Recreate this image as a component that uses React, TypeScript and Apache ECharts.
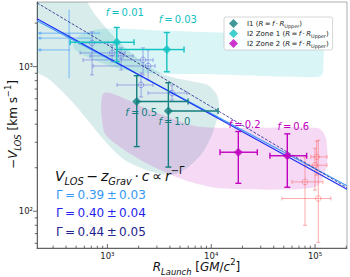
import React, { useEffect, useRef } from 'react';
import * as echarts from 'echarts';

const FONT = 'DejaVu Sans';

// ---------- axes ----------
const X_RANGE = [210, 203000];
const Y_RANGE = [55.7, 2800];

// ---------- data: [R, V, Rlo, Rhi, Vlo, Vhi] ----------
const I1_NAME = 'I1';
const I1_F = ['0.5', '1.0'];
const I1_POINTS = [
  [1918, 574, 1918, 5985, 280, 866],
  [3866, 494, 3866, 11630, 202, 774],
];
const Z1_NAME = 'I2 Zone 1';
const Z1_F = ['0.01', '0.03'];
const Z1_POINTS = [
  [1232, 1475, 438, 1807, 1083, 1866],
  [3736, 1313, 1240, 5470, 922, 1722],
];
const Z2_NAME = 'I2 Zone 2';
const Z2_F = ['0.2', '0.6'];
const Z2_POINTS = [
  [18240, 256, 12150, 27780, 156, 356],
  [54020, 242, 36760, 82990, 146.6, 343],
];
const LIGHT_POINTS = [
  [225, 1704, 212, 851, 1704, 1704],
  [225, 1574, 212, 700, 1574, 1574],
  [225, 1306, 212, 438, 1306, 1306],
  [428, 1633, 428, 428, 836, 2472],
];
const PURPLE_POINTS = [
  [712, 1459, 534, 1016, 876, 1740],
  [1110, 1244, 546, 1480, 1079, 1414],
  [1355, 1186, 681, 1768, 948, 1348],
  [2206, 1113, 583, 2753, 876, 1348],
  [2465, 1011, 729, 2878, 809, 1306],
  [2110, 747, 1240, 2753, 617, 904],
  [4195, 657, 2465, 5850, 588, 747],
];
const RED_POINTS = [
  [103600, 237.8, 91100, 130200, 178, 305.5],
  [99800, 208, 79800, 130200, 140, 273],
  [79970, 159.6, 59950, 119000, 80, 237],
  [107400, 122.5, 48030, 142200, 61, 310],
];

// power-law fits: gamma, error, endpoints
const FIT_GAMMA = [0.39, 0.4, 0.44];
const FIT_ERR = [0.03, 0.04, 0.05];
const FIT_LINES = [
  [[210, 2074], [203000, 150]],
  [[210, 2141], [203000, 142]],
  [[210, 2763], [203000, 145.5]],
];

// shaded regions (R, V)
const BAND_Z1 = [
  [468, 1414], [546, 1659], [851, 1825], [2577, 1795], [7800, 1739], [29460, 1712],
  [106700, 1712], [119000, 1607], [119000, 904], [106700, 849], [29460, 862],
  [7800, 889], [2064, 904], [1062, 1011], [610, 1186], [489, 1306],
];
const BAND_I1 = [
  [180, 3140], [546, 3140], [762, 2281], [1186, 1580], [2064, 1112], [3593, 875],
  [6980, 783], [9310, 747], [11370, 637], [11890, 501], [10400, 353], [8340, 256],
  [5850, 199], [4195, 178], [2577, 189], [1480, 225], [930, 310], [489, 543],
  [281, 809], [180, 1011],
];
const BAND_Z2 = [
  [930, 658], [2577, 501], [6980, 388], [18920, 376], [106700, 376], [127300, 321],
  [130000, 208], [106700, 151], [71460, 142], [12150, 144], [5595, 164],
  [2577, 208], [1325, 278], [930, 353],
];

// ---------- styles ----------
const C_I1 = '#137e7e';
const C_Z1 = '#12c2c2';
const C_Z2 = '#bf00bf';
const C_LIGHT = 'rgba(60,150,250,0.45)';
const C_PURPLE = 'rgba(80,80,220,0.5)';
const C_RED = 'rgba(255,100,100,0.6)';
const FIT_COLORS = ['#3d9cf7', '#1a2cf5', '#23238a'];
const FIT_TEXT_COLORS = ['#3399f5', '#1f1fee', '#23238e'];
const BAND_COLORS = ['rgba(0,191,191,0.15)', 'rgba(0,128,128,0.15)', 'rgba(191,0,191,0.15)'];
const I1_LABEL_OFF = [[4.5, 10.6], [6, 10.7]];
const Z1_LABEL_OFF = [[8, -30], [11, -30]];
const Z2_LABEL_OFF = [[6.4, -28], [6, -29]];

const SUP: Record<string, string> = { '1': '¹', '2': '²', '3': '³', '4': '⁴', '5': '⁵' };

function mathRich(F: number, color: string) {
  const L = Math.round(F * 1.5);
  const s = F * 0.7;
  const mainBase = L / 2 + 0.35 * F;
  const subCenter = mainBase + 0.22 * F - 0.35 * s;
  const supCenter = mainBase - 0.42 * F - 0.35 * s;
  const base = { fontFamily: FONT, color, fill: color };
  return {
    n: { ...base, fontSize: F, lineHeight: L },
    i: { ...base, fontSize: F, lineHeight: L, fontStyle: 'italic' },
    sub: { ...base, fontSize: s, lineHeight: 2 * (L - subCenter), verticalAlign: 'bottom', fontStyle: 'italic' },
    sup: { ...base, fontSize: s, lineHeight: 2 * supCenter, verticalAlign: 'top' },
    g: { ...base, fontSize: F, lineHeight: L, width: 4 },
  };
}

function isPow10(v: number) {
  const e = Math.log10(v);
  return Math.abs(e - Math.round(e)) < 1e-6;
}
function powLabel(v: number) {
  if (!isPow10(v)) return '';
  const e = Math.round(Math.log10(v));
  return '10' + SUP[String(e)];
}

function minorTicks(lo: number, hi: number) {
  const out: number[][] = [];
  for (let d = -1; d <= 7; d++) {
    for (let k = 1; k <= 9; k++) {
      const v = k * Math.pow(10, d);
      if (v >= lo && v <= hi) out.push([v, k === 1 ? 1 : 0]);
    }
  }
  return out;
}

function errorBars(color: string, lw: number, cap: number, marker: string, mr: number,
  labels?: { texts: string[]; offsets: number[][]; color: string }) {
  return (params: any, api: any) => {
    const R = api.value(0), V = api.value(1);
    const c = api.coord([R, V]);
    const l = api.coord([api.value(2), V]);
    const r = api.coord([api.value(3), V]);
    const b = api.coord([R, api.value(4)]);
    const t = api.coord([R, api.value(5)]);
    const st = { stroke: color, lineWidth: lw, fill: 'none' };
    const ch: any[] = [];
    const seg = (x1: number, y1: number, x2: number, y2: number) =>
      ch.push({ type: 'line', shape: { x1, y1, x2, y2 }, style: st });
    if (c[0] - l[0] > 0.5) { seg(l[0], c[1], c[0], c[1]); if (cap) seg(l[0], c[1] - cap, l[0], c[1] + cap); }
    if (r[0] - c[0] > 0.5) { seg(c[0], c[1], r[0], c[1]); if (cap) seg(r[0], c[1] - cap, r[0], c[1] + cap); }
    if (b[1] - c[1] > 0.5) { seg(c[0], c[1], c[0], b[1]); if (cap) seg(c[0] - cap, b[1], c[0] + cap, b[1]); }
    if (c[1] - t[1] > 0.5) { seg(c[0], t[1], c[0], c[1]); if (cap) seg(c[0] - cap, t[1], c[0] + cap, t[1]); }
    if (marker === 'circle') {
      ch.push({ type: 'circle', shape: { cx: c[0], cy: c[1], r: mr }, style: { stroke: color, lineWidth: lw, fill: 'none' } });
    } else if (marker === 'dot') {
      ch.push({ type: 'circle', shape: { cx: c[0], cy: c[1], r: mr }, style: { fill: color } });
    }
    if (labels) {
      const i = params.dataIndex;
      const off = labels.offsets[i];
      ch.push({
        type: 'text',
        x: c[0] + off[0],
        y: c[1] + off[1],
        style: {
          text: '{i|f}{n|\u2009=\u2009' + labels.texts[i] + '}',
          rich: mathRich(10, labels.color),
          fill: labels.color,
          align: 'center', textAlign: 'center',
          verticalAlign: 'middle', textVerticalAlign: 'middle',
        },
      });
    }
    return { type: 'group', children: ch };
  };
}

function errSeries(data: number[][], render: any, z: number) {
  return {
    type: 'custom', coordinateSystem: 'cartesian2d', silent: true, clip: false, z,
    data, renderItem: render,
  };
}

function buildOption() {
  const bands = [BAND_Z1, BAND_I1, BAND_Z2];
  const legendRich = {
    n: { fontFamily: FONT, fontSize: 7, lineHeight: 9, color: '#222', fill: '#222' },
    i: { fontFamily: FONT, fontSize: 7, lineHeight: 9, fontStyle: 'italic', color: '#222', fill: '#222' },
    sub: { fontFamily: FONT, fontSize: 4.9, lineHeight: 4.5, verticalAlign: 'bottom', color: '#222', fill: '#222' },
    g: { fontFamily: FONT, fontSize: 7, lineHeight: 9, width: 4 },
  };
  const legendFmt = (name: string) =>
    `{g| }{n|${name} (}{i|R}{n|\u2009=\u2009}{i|f}{n|\u2009·\u2009}{i|R}{sub|Upper}{n|)}`;

  const xTicks = minorTicks(X_RANGE[0], X_RANGE[1]);
  const yTicks = minorTicks(Y_RANGE[0], Y_RANGE[1]);

  const series: any[] = [
    {
      type: 'custom', coordinateSystem: 'cartesian2d', silent: true, clip: true, z: 1,
      data: bands.map(() => [X_RANGE[0], Y_RANGE[0]]),
      renderItem: (params: any, api: any) => {
        const pts = bands[params.dataIndex].map((p) => api.coord(p));
        return { type: 'polygon', shape: { points: pts, smooth: 0.25 }, style: { fill: BAND_COLORS[params.dataIndex] } };
      },
    },
    errSeries(LIGHT_POINTS, errorBars(C_LIGHT, 1.4, 0, 'dot', 1.6), 2),
    errSeries(PURPLE_POINTS, errorBars(C_PURPLE, 0.9, 2, 'circle', 2.8), 2),
    errSeries(RED_POINTS, errorBars(C_RED, 0.9, 2, 'circle', 2.8), 2),
    ...FIT_LINES.map((d, i) => ({
      type: 'line', data: d, symbol: 'none', silent: true, z: 3,
      lineStyle: { color: FIT_COLORS[i], width: i === 2 ? 0.8 : 1.1, type: i === 2 ? [3, 1.5] : 'solid' },
    })),
    errSeries(I1_POINTS, errorBars(C_I1, 1.4, 3, 'none', 0, { texts: I1_F, offsets: I1_LABEL_OFF, color: C_I1 }), 4),
    errSeries(Z1_POINTS, errorBars(C_Z1, 1.4, 3, 'none', 0, { texts: Z1_F, offsets: Z1_LABEL_OFF, color: C_Z1 }), 4),
    errSeries(Z2_POINTS, errorBars(C_Z2, 1.4, 3, 'none', 0, { texts: Z2_F, offsets: Z2_LABEL_OFF, color: C_Z2 }), 4),
    { type: 'scatter', name: I1_NAME, data: I1_POINTS.map((p) => [p[0], p[1]]), symbol: 'diamond', symbolSize: 9, itemStyle: { color: C_I1 }, z: 5, silent: true },
    { type: 'scatter', name: Z1_NAME, data: Z1_POINTS.map((p) => [p[0], p[1]]), symbol: 'diamond', symbolSize: 9, itemStyle: { color: C_Z1 }, z: 5, silent: true },
    { type: 'scatter', name: Z2_NAME, data: Z2_POINTS.map((p) => [p[0], p[1]]), symbol: 'diamond', symbolSize: 9, itemStyle: { color: C_Z2 }, z: 5, silent: true },
    {
      type: 'custom', coordinateSystem: 'cartesian2d', silent: true, clip: false, z: 6,
      data: xTicks.map((t) => [t[0], Y_RANGE[0], t[1]]),
      renderItem: (params: any, api: any) => {
        const p = api.coord([api.value(0), Y_RANGE[0]]);
        const len = api.value(2) ? 4 : 2.3;
        return { type: 'line', shape: { x1: p[0], y1: p[1], x2: p[0], y2: p[1] - len }, style: { stroke: '#444', lineWidth: 0.8 } };
      },
    },
    {
      type: 'custom', coordinateSystem: 'cartesian2d', silent: true, clip: false, z: 6,
      data: yTicks.map((t) => [X_RANGE[0], t[0], t[1]]),
      renderItem: (params: any, api: any) => {
        const p = api.coord([X_RANGE[0], api.value(1)]);
        const len = api.value(2) ? 4 : 2.3;
        return { type: 'line', shape: { x1: p[0], y1: p[1], x2: p[0] - len, y2: p[1] }, style: { stroke: '#444', lineWidth: 0.8 } };
      },
    },
  ];

  const gammaTexts = FIT_GAMMA.map((g, i) =>
    `Γ\u2009=\u2009${g.toFixed(2)}\u2009±\u2009${FIT_ERR[i].toFixed(2)}`);
  const gammaY = [195, 213.3, 231.7];

  return {
    animation: false,
    grid: {
      left: 37, right: 3, top: 2, bottom: 29, show: true, borderColor: '#999', borderWidth: 0.8,
      backgroundColor: 'transparent', containLabel: false, outerBoundsMode: 'none',
    },
    xAxis: {
      type: 'log', logBase: 10, min: X_RANGE[0], max: X_RANGE[1],
      axisLine: { show: true, lineStyle: { color: '#555', width: 0.9 } },
      axisTick: { show: false }, splitLine: { show: false }, minorTick: { show: false },
      axisLabel: { formatter: powLabel, fontSize: 8.5, fontFamily: FONT, color: '#222', margin: 3, showMinLabel: false, showMaxLabel: false },
    },
    yAxis: {
      type: 'log', logBase: 10, min: Y_RANGE[0], max: Y_RANGE[1],
      axisLine: { show: true, lineStyle: { color: '#555', width: 0.9 } },
      axisTick: { show: false }, splitLine: { show: false }, minorTick: { show: false },
      axisLabel: { formatter: powLabel, fontSize: 8.5, fontFamily: FONT, color: '#222', margin: 4, showMinLabel: false, showMaxLabel: false },
    },
    legend: {
      orient: 'vertical', left: 224, top: 17, padding: [2, 4, 2, 5], itemGap: 1,
      itemWidth: 9, itemHeight: 9,
      backgroundColor: 'rgba(255,255,255,0.85)', borderColor: '#ccc', borderWidth: 0.8, borderRadius: 2,
      data: [
        { name: I1_NAME, icon: 'diamond' },
        { name: Z1_NAME, icon: 'diamond' },
        { name: Z2_NAME, icon: 'diamond' },
      ],
      formatter: legendFmt,
      textStyle: { fontFamily: FONT, fontSize: 7, color: '#222', rich: legendRich },
      selectedMode: false,
    },
    graphic: [
      {
        type: 'text', x: 196.5, y: 266.5, z: 10,
        style: {
          text: '{i|R}{sub|Launch}{n| [}{i|GM}{n|/}{i|c}{sup|2}{n|]}',
          rich: mathRich(12, '#111'), fill: '#111',
          align: 'center', textAlign: 'center',
          verticalAlign: 'middle', textVerticalAlign: 'middle',
        },
      },
      {
        type: 'text', x: 12.5, y: 124.5, z: 10, rotation: Math.PI / 2,
        style: {
          text: '{n|−}{i|V}{sub|LOS}{n| [km s}{sup|−1}{n|]}',
          rich: mathRich(12, '#111'), fill: '#111',
          align: 'center', textAlign: 'center',
          verticalAlign: 'middle', textVerticalAlign: 'middle',
        },
      },
      {
        type: 'text', x: 55, y: 176, z: 10,
        style: {
          text: '{i|V}{sub|LOS}{n|\u2009−\u2009}{i|z}{sub|Grav}{n|\u2009·\u2009}{i|c}{n|\u2009∝\u2009}{i|r}{sup|−Γ}',
          rich: mathRich(14, '#111'), fill: '#111',
          verticalAlign: 'middle', textVerticalAlign: 'middle',
        },
      },
      ...gammaTexts.map((t, i) => ({
        type: 'text', x: 56, y: gammaY[i], z: 10,
        style: {
          text: t, fill: FIT_TEXT_COLORS[i], font: `12px "${FONT}"`,
          verticalAlign: 'middle', textVerticalAlign: 'middle',
        },
      })),
    ],
    series,
  };
}

export default function App() {
  const ref = useRef<HTMLDivElement>(null);
  useEffect(() => {
    if (!ref.current) return;
    const chart = echarts.init(ref.current, null, { renderer: 'svg' });
    chart.setOption(buildOption() as any);
    return () => chart.dispose();
  }, []);
  return (
    <div
      ref={ref}
      style={{ position: 'fixed', left: 0, top: 0, width: 350, height: 277, background: '#fff' }}
    />
  );
}
